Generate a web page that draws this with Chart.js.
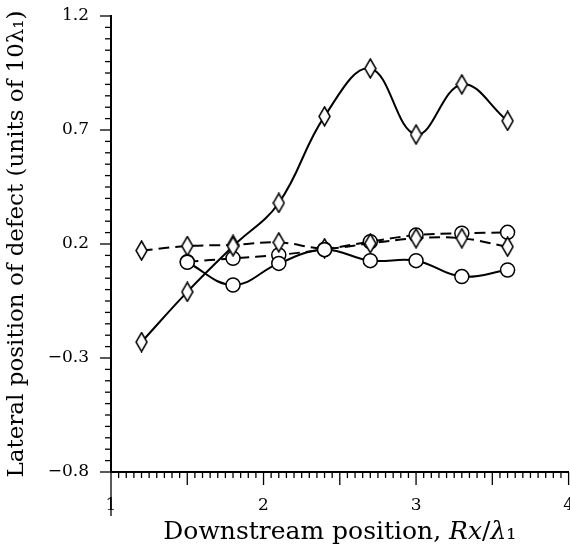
<!DOCTYPE html>
<html>
<head>
<meta charset="utf-8">
<script src="https://cdn.jsdelivr.net/npm/chart.js@4"></script>
<style>
  html, body { margin: 0; padding: 0; background: #fff; overflow: hidden; }
</style>
</head>
<body>
<canvas id="myChart" width="584" height="553"></canvas>
<script>
// x positions of the measurements
const xDiamond = [1.2, 1.5, 1.8, 2.1, 2.4, 2.7, 3.0, 3.3, 3.6];
const xCircle = [1.5, 1.8, 2.1, 2.4, 2.7, 3.0, 3.3, 3.6];

// series values
const solidDiamond = [-0.23, -0.01, 0.19, 0.38, 0.76, 0.97, 0.68, 0.90, 0.74];
const solidCircle = [0.12, 0.02, 0.115, 0.175, 0.127, 0.127, 0.057, 0.086];
const dashDiamond = [0.171, 0.191, 0.196, 0.207, 0.181, 0.203, 0.225, 0.225, 0.188];
const dashCircle = [0.122, 0.137, 0.152, 0.177, 0.21, 0.239, 0.247, 0.251];

// tick labels
const yLabels = [-0.8, -0.3, 0.2, 0.7, 1.2];
const xLabels = [1, 2, 3, 4];

const serif = "'DejaVu Serif', 'Liberation Serif', serif";

// tall narrow open diamond marker
function diamondImg() {
  const c = document.createElement('canvas');
  c.width = 13; c.height = 21;
  const g = c.getContext('2d');
  g.beginPath();
  g.moveTo(6.5, 1); g.lineTo(12, 10.5); g.lineTo(6.5, 20); g.lineTo(1, 10.5);
  g.closePath();
  g.fillStyle = '#fff'; g.fill();
  g.lineWidth = 1.5; g.strokeStyle = '#000'; g.stroke();
  return c;
}
const diamond = diamondImg();

function pts(xs, ys) {
  return xs.map((x, i) => ({x: x, y: ys[i]}));
}

function isNear(v, list) {
  return list.some(l => Math.abs(v - l) < 1e-6);
}

// draws the tick marks with different lengths + italic x title
const axisPlugin = {
  id: 'axisTicks',
  afterDraw(chart) {
    const ctx = chart.ctx;
    const area = chart.chartArea;
    const xs = chart.scales.x, ys = chart.scales.y;
    ctx.save();
    ctx.strokeStyle = '#000';
    ctx.lineWidth = 1.3;
    ys.ticks.forEach((t, i) => {
      const py = ys.getPixelForTick(i);
      const len = isNear(t.value, yLabels) ? 11 : 6;
      ctx.beginPath();
      ctx.moveTo(area.left - len, py);
      ctx.lineTo(area.left, py);
      ctx.stroke();
    });
    xs.ticks.forEach((t, i) => {
      const px = xs.getPixelForTick(i);
      let len = 6;
      if (Math.abs(t.value * 2 - Math.round(t.value * 2)) < 1e-6) len = 13;
      if (Math.abs(t.value - 1) < 1e-6) len = 44;
      ctx.beginPath();
      ctx.moveTo(px, area.bottom);
      ctx.lineTo(px, area.bottom + len);
      ctx.stroke();
    });

    // x axis title, part of it in italics
    const parts = [
      {t: 'Downstream position, ', f: '25px ' + serif},
      {t: 'Rx', f: 'italic 25px ' + serif},
      {t: '/', f: '25px ' + serif},
      {t: 'λ', f: 'italic 25px ' + serif},
      {t: '₁', f: '25px ' + serif}
    ];
    let total = 0;
    parts.forEach(p => { ctx.font = p.f; total += ctx.measureText(p.t).width; });
    let x = (area.left + area.right) / 2 - total / 2;
    ctx.fillStyle = '#000';
    ctx.textBaseline = 'middle';
    parts.forEach(p => {
      ctx.font = p.f;
      ctx.fillText(p.t, x, 532);
      x += ctx.measureText(p.t).width;
    });
    ctx.restore();
  }
};

const common = {
  borderColor: '#000',
  borderWidth: 2,
  pointBorderColor: '#000',
  pointBackgroundColor: '#fff',
  pointBorderWidth: 1.5,
  tension: 0.4,
  fill: false
};

const myChart = new Chart(document.getElementById('myChart'), {
  type: 'line',
  data: {
    datasets: [
      Object.assign({label: 'solid diamond', data: pts(xDiamond, solidDiamond), pointStyle: diamond, pointRadius: 7}, common),
      Object.assign({label: 'solid circle', data: pts(xCircle, solidCircle), pointStyle: 'circle', pointRadius: 7}, common),
      Object.assign({label: 'dashed diamond', data: pts(xDiamond, dashDiamond), pointStyle: diamond, pointRadius: 7, borderDash: [11, 6]}, common),
      Object.assign({label: 'dashed circle', data: pts(xCircle, dashCircle), pointStyle: 'circle', pointRadius: 7, borderDash: [11, 6]}, common)
    ]
  },
  options: {
    responsive: false,
    animation: false,
    layout: { padding: { top: 16, right: 0, left: 0, bottom: 0 } },
    plugins: {
      legend: { display: false },
      tooltip: { enabled: false }
    },
    scales: {
      x: {
        type: 'linear',
        min: 1, max: 4,
        afterFit: s => { s.height = 81; },
        border: { display: true, color: '#000', width: 2 },
        grid: { drawOnChartArea: false, drawTicks: true, tickLength: 13, tickColor: 'rgba(0,0,0,0)' },
        ticks: {
          stepSize: 0.05,
          maxTicksLimit: 200,
          autoSkip: false,
          maxRotation: 0,
          padding: 10,
          color: '#000',
          font: { family: serif, size: 17 },
          callback: v => isNear(v, xLabels) ? String(Math.round(v)) : ''
        }
      },
      y: {
        min: -0.8, max: 1.2,
        afterFit: s => { s.width = 111; },
        border: { display: true, color: '#000', width: 2 },
        grid: { drawOnChartArea: false, drawTicks: true, tickLength: 20, tickColor: 'rgba(0,0,0,0)' },
        ticks: {
          stepSize: 0.05,
          maxTicksLimit: 200,
          autoSkip: false,
          padding: 2,
          color: '#000',
          font: { family: serif, size: 17 },
          callback: v => {
            if (!isNear(v, yLabels)) return '';
            const r = Math.round(v * 10) / 10;
            return r < 0 ? '\u2212' + Math.abs(r).toFixed(1) : r.toFixed(1);
          }
        },
        title: {
          display: true,
          text: 'Lateral position of defect (units of 10λ₁)',
          color: '#000',
          font: { family: serif, size: 23 },
          padding: { top: 3, bottom: 0 }
        }
      }
    }
  },
  plugins: [axisPlugin]
});
</script>
</body>
</html>
